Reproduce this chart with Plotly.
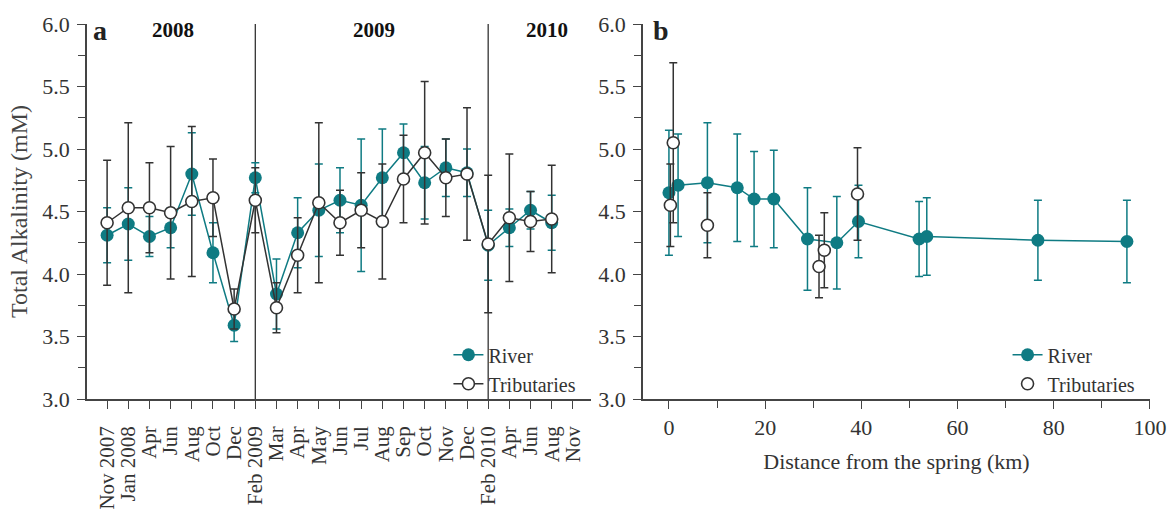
import plotly.graph_objects as go

# ---------------- data: panel a (time series) ----------------
months = ["Nov 2007", "Jan 2008", "Apr", "Jun", "Aug", "Oct", "Dec", "Feb 2009",
          "Mar", "Apr", "May", "Jun", "Jul", "Aug", "Sep", "Oct", "Nov", "Dec",
          "Feb 2010", "Apr", "Jun", "Aug", "Nov"]
river_a = [4.31, 4.40, 4.30, 4.37, 4.80, 4.17, 3.59, 4.77, 3.84, 4.33, 4.51, 4.59,
           4.55, 4.77, 4.97, 4.73, 4.85, 4.81, 4.23, 4.37, 4.51, 4.41, None]
river_a_err = [0.22, 0.29, 0.16, 0.16, 0.33, 0.24, 0.13, 0.12, 0.28, 0.28, 0.37, 0.26,
               0.53, 0.39, 0.23, 0.29, 0.23, 0.19, 0.28, 0.15, 0.15, 0.22, None]
trib_a = [4.41, 4.53, 4.53, 4.49, 4.58, 4.61, 3.72, 4.59, 3.73, 4.15, 4.57, 4.41,
          4.51, 4.42, 4.76, 4.97, 4.77, 4.80, 4.24, 4.45, 4.42, 4.44, None]
trib_a_err = [0.50, 0.68, 0.36, 0.53, 0.60, 0.31, 0.16, 0.26, 0.20, 0.30, 0.64, 0.26,
              0.30, 0.46, 0.35, 0.57, 0.31, 0.53, 0.55, 0.51, 0.24, 0.43, None]
year_labels = ["2008", "2009", "2010"]
year_breaks = ["Feb 2009", "Feb 2010"]

# ---------------- data: panel b (distance) ----------------
river_b_km = [0, 1.9, 8.0, 14.2, 17.7, 21.8, 28.8, 34.9, 39.4, 52.0, 53.6, 76.7, 95.2]
river_b = [4.65, 4.71, 4.73, 4.69, 4.60, 4.60, 4.28, 4.25, 4.42, 4.28, 4.30, 4.27, 4.26]
river_b_err = [0.50, 0.41, 0.48, 0.43, 0.38, 0.39, 0.41, 0.37, 0.29, 0.30, 0.31, 0.32, 0.33]
trib_b_km = [0.3, 0.9, 8.0, 31.2, 32.3, 39.2]
trib_b = [4.55, 5.05, 4.39, 4.06, 4.19, 4.64]
trib_b_err = [0.33, 0.64, 0.26, 0.25, 0.30, 0.37]

TEAL = "#0f7b83"
DARK = "#333333"
AXC = "#444444"
FONT = "Liberation Serif"
FS = 22
idx = list(range(len(months)))

fig = go.Figure()

# panel a
fig.add_trace(go.Scatter(
    x=idx, y=river_a, name="River", mode="lines+markers",
    line=dict(color=TEAL, width=1.5),
    marker=dict(color=TEAL, size=13, symbol="circle"),
    error_y=dict(type="data", array=river_a_err, color=TEAL, thickness=1.5, width=4),
    xaxis="x", yaxis="y", legend="legend"))
fig.add_trace(go.Scatter(
    x=idx, y=trib_a, name="Tributaries", mode="lines+markers",
    line=dict(color=DARK, width=1.5),
    marker=dict(color="white", size=12, symbol="circle", line=dict(color=DARK, width=1.6)),
    error_y=dict(type="data", array=trib_a_err, color=DARK, thickness=1.5, width=4),
    xaxis="x", yaxis="y", legend="legend"))

# panel b
fig.add_trace(go.Scatter(
    x=river_b_km, y=river_b, name="River", mode="lines+markers",
    line=dict(color=TEAL, width=1.5),
    marker=dict(color=TEAL, size=13, symbol="circle"),
    error_y=dict(type="data", array=river_b_err, color=TEAL, thickness=1.5, width=4),
    xaxis="x2", yaxis="y2", legend="legend2"))
fig.add_trace(go.Scatter(
    x=trib_b_km, y=trib_b, name="Tributaries", mode="markers",
    marker=dict(color="white", size=12, symbol="circle", line=dict(color=DARK, width=1.6)),
    error_y=dict(type="data", array=trib_b_err, color=DARK, thickness=1.5, width=4),
    xaxis="x2", yaxis="y2", legend="legend2"))

# vertical year separators
for b in year_breaks:
    xi = months.index(b)
    fig.add_shape(type="line", xref="x", yref="y", x0=xi, x1=xi, y0=3.0, y1=6.0,
                  line=dict(color=DARK, width=1.3), layer="below")

axis_common = dict(showline=True, linecolor=AXC, linewidth=1.5, ticks="outside",
                   ticklen=8, tickwidth=1.3, tickcolor=AXC, showgrid=False,
                   zeroline=False, automargin=False,
                   tickfont=dict(family=FONT, size=FS, color=DARK))

yaxis_cfg = dict(axis_common, range=[3.0, 6.0], dtick=0.5, tickformat=".1f",
                 ticklabelstandoff=3,
                 minor=dict(dtick=0.25, ticks="outside", ticklen=7, tickcolor=AXC,
                            tickwidth=1.3, showgrid=False))

legend_cfg = dict(xanchor="left", yanchor="top", bgcolor="rgba(0,0,0,0)",
                  font=dict(family=FONT, size=20, color=DARK),
                  tracegroupgap=0, itemwidth=30)

fig.update_layout(
    width=1169, height=516,
    margin=dict(l=87, r=19, t=24, b=117),
    plot_bgcolor="white", paper_bgcolor="white",
    font=dict(family=FONT, color=DARK),
    showlegend=True,
    xaxis=dict(axis_common, domain=[0, 0.474], range=[-0.95, 22.85],
               tickmode="array", tickvals=idx, ticktext=months, tickangle=-90,
               ticklabelstandoff=9, tickfont=dict(family=FONT, size=21, color=DARK)),
    yaxis=dict(yaxis_cfg, anchor="x",
               title=dict(text="Total Alkalinity (mM)", standoff=8,
                          font=dict(family=FONT, size=24, color="#444444"))),
    xaxis2=dict(axis_common, domain=[0.523, 1.0], range=[-5.4, 100], anchor="y2",
                dtick=20, tick0=0,
                minor=dict(dtick=10, ticks="outside", ticklen=7, tickcolor=AXC,
                           tickwidth=1.3, showgrid=False),
                title=dict(text="Distance from the spring (km)", standoff=14,
                           font=dict(family=FONT, size=FS, color=DARK))),
    yaxis2=dict(yaxis_cfg, anchor="x2"),
    legend=dict(legend_cfg, x=0.34, y=0.17),
    legend2=dict(legend_cfg, x=0.866, y=0.17),
)

# panel letters and year labels
fig.add_annotation(text="<b>a</b>", xref="paper", yref="paper", x=0.004, y=1.03,
                   xanchor="left", yanchor="top", showarrow=False,
                   font=dict(family=FONT, size=28, color="#222222"))
fig.add_annotation(text="<b>b</b>", xref="paper", yref="paper", x=0.531, y=1.03,
                   xanchor="left", yanchor="top", showarrow=False,
                   font=dict(family=FONT, size=28, color="#222222"))
for lab, xpos in zip(year_labels, [3.1, 12.6, 20.8]):
    fig.add_annotation(text="<b>%s</b>" % lab, xref="x", yref="paper", x=xpos, y=1.02,
                       xanchor="center", yanchor="top", showarrow=False,
                       font=dict(family=FONT, size=21, color="#111111"))

fig.write_html("out.html")
